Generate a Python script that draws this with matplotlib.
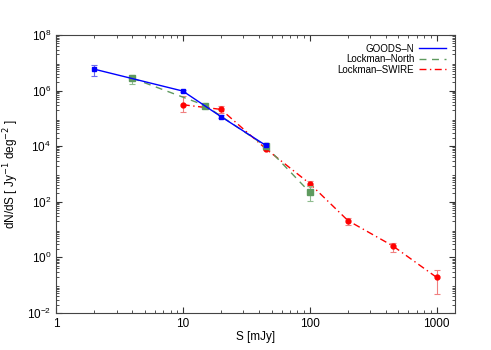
import numpy as np
import matplotlib
matplotlib.use("Agg")
import matplotlib.pyplot as plt
from matplotlib.lines import Line2D

plt.rcParams['font.family'] = ['Liberation Sans', 'DejaVu Sans']

# GOODS-N
goods_x = [2, 10, 20, 45]
goods_y = [5.9e6, 9.6e5, 1.15e5, 1.07e4]
goods_lo = [3.3e6, 8.6e5, 1.0e5, 9.5e3]
goods_hi = [8.5e6, 1.07e6, 1.3e5, 1.2e4]

# Lockman-North
ln_x = [4, 15, 45, 100]
ln_y = [2.8e6, 2.9e5, 1.0e4, 2.2e2]
ln_lo = [1.7e6, 2.5e5, 8.5e3, 1.1e2]
ln_hi = [3.5e6, 3.3e5, 1.2e4, 3.6e2]

# Lockman-SWIRE
ls_x = [10, 20, 45, 100, 200, 450, 1000]
ls_y = [3.1e5, 2.1e5, 8.1e3, 4.5e2, 21, 2.6, 0.19]
ls_lo = [1.7e5, 1.6e5, 7.0e3, 3.8e2, 14, 1.55, 0.047]
ls_hi = [6.3e5, 2.7e5, 9.5e3, 5.4e2, 26, 3.2, 0.36]

fig = plt.figure(figsize=(4.91, 3.5), dpi=100)
ax = fig.add_axes([0.114, 0.106, 0.813, 0.794])

DASHDOT = (0, (5, 2.5, 1, 2.5))

def plot_series(x, y, lo, hi, color, ls, marker, ms, ecolor):
    y = np.array(y); lo = np.array(lo); hi = np.array(hi)
    yerr = [y - lo, hi - y]
    ax.errorbar(x, y, yerr=yerr, fmt='none', ecolor=ecolor, elinewidth=0.8, capsize=2.5, capthick=0.8)
    ax.plot(x, y, color=color, ls=ls, lw=1.0, marker=marker, ms=ms, mec=color, mfc=color)

plot_series(ls_x, ls_y, ls_lo, ls_hi, 'red', DASHDOT, 'o', 3.5, '#f08080')
plot_series(ln_x, ln_y, ln_lo, ln_hi, '#5f9a5f', (0, (5, 4)), 's', 4.0, '#8fbc8f')
plot_series(goods_x, goods_y, goods_lo, goods_hi, 'blue', '-', 's', 3.5, '#6a6af0')

ax.set_xscale('log')
ax.set_yscale('log')
ax.set_xlim(1, 1400)
ax.set_ylim(1e-2, 1e8)
ax.set_yticks([1e-2, 1e0, 1e2, 1e4, 1e6, 1e8])
ax.set_xticks([1, 10, 100, 1000])
ax.set_xticklabels(['1', '10', '100', '1000'])
ax.yaxis.set_minor_locator(matplotlib.ticker.LogLocator(base=10, subs=np.arange(2, 10), numticks=20))
ax.yaxis.set_minor_formatter(matplotlib.ticker.NullFormatter())
ax.tick_params(which='both', direction='in', top=True, right=True, labelsize=8.5, colors='#333333', labelcolor='black')
ax.tick_params(which='major', length=4)
ax.tick_params(which='minor', length=2)
for s in ax.spines.values():
    s.set_color('#444444')

ax.set_xlabel('S [mJy]', fontsize=8.5, labelpad=1)
ax.set_ylabel(r'dN/dS [ Jy$^{-1}$ deg$^{-2}$ ]', fontsize=8.5, labelpad=4)

handles = [Line2D([], [], color='blue', ls='-', lw=1.0),
           Line2D([], [], color='#5f9a5f', ls=(0, (5, 4)), lw=1.0),
           Line2D([], [], color='red', ls=DASHDOT, lw=1.0)]
ax.legend(handles, ['GOODS\u2013N', 'Lockman\u2013North', 'Lockman\u2013SWIRE'],
          loc='upper right', frameon=False, markerfirst=False, fontsize=7,
          handlelength=2.8, labelspacing=0.05, borderaxespad=0.5, handletextpad=0.5)

fig.savefig('out.png', dpi=100)
